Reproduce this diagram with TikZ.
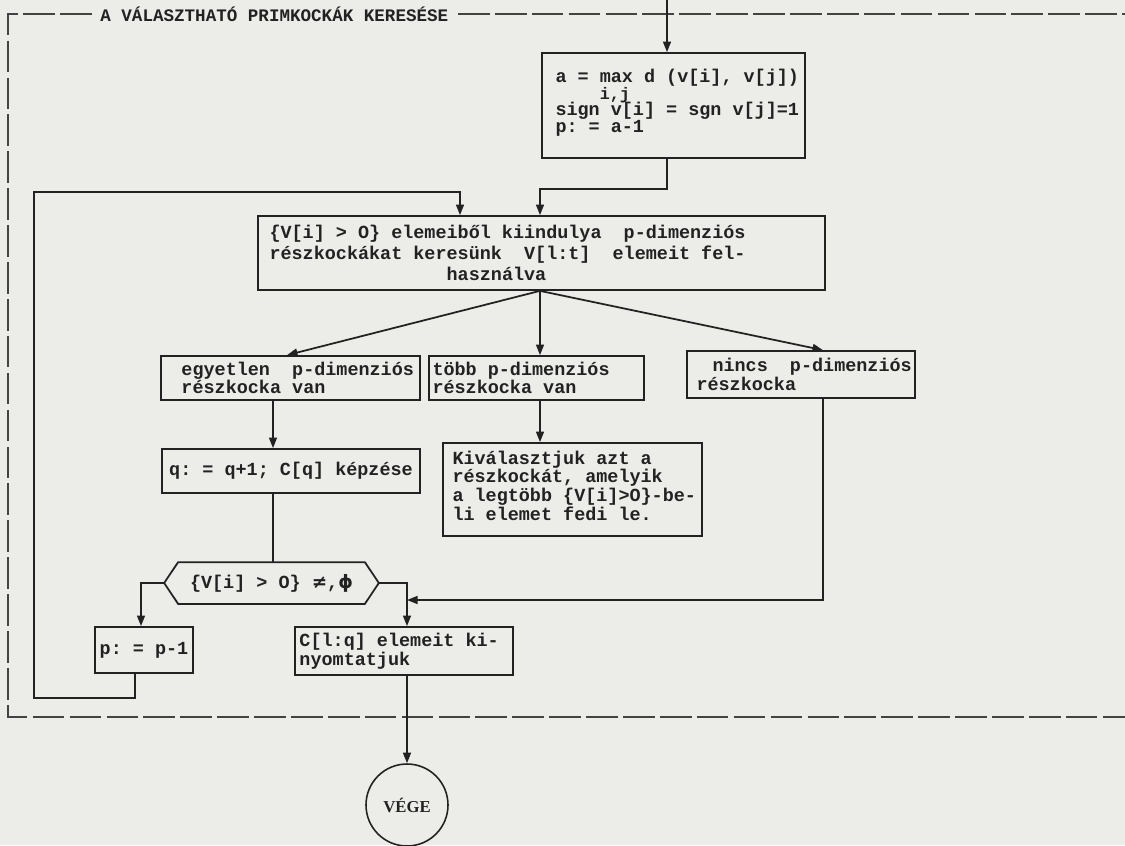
\documentclass[tikz,border=0pt]{standalone}
\usepackage{fontspec}
\setmonofont{Liberation Mono}
\newfontfamily\symfont{DejaVu Sans}
\newfontfamily\vegefont{Liberation Serif}
\usetikzlibrary{arrows.meta,calc}
\definecolor{paper}{RGB}{236,236,233}
\definecolor{ink}{RGB}{34,34,34}
\begin{document}
\begin{tikzpicture}[x=0.02cm,y=-0.02cm,
  box/.style={draw=ink, line width=1pt, text=ink, inner sep=0pt,
    font=\ttfamily\bfseries\fontsize{10.5}{10.6}\selectfont},
  txt/.style={text=ink, inner sep=0pt, anchor=west, align=left,
    font=\ttfamily\bfseries\fontsize{10.5}{10.6}\selectfont},
  arr/.style={draw=ink, line width=1pt, -{Triangle[length=6pt,width=4.5pt]}},
  ln/.style={draw=ink, line width=1pt},
  frame/.style={draw=ink!85, line width=1pt, dash pattern=on 18pt off 3pt}]
\useasboundingbox (0,0) rectangle (1125,845);
\fill[paper] (0,0) rectangle (1125,845);

% frame and title
\node[txt, font=\ttfamily\bfseries\fontsize{10}{10}\selectfont] (title) at (100,14) {A VÁLASZTHATÓ PRIMKOCKÁK KERESÉSE};
\draw[frame] (92,14) -- (8,14) -- (8,717) -- (1125,717);
\draw[frame] (458,14) -- (1125,14);

% boxes
\node[box, minimum width=5.26cm, minimum height=2.10cm] (b1) at (673.5,105.5) {};
\node[txt, yshift=0.06cm] (t1) at ([xshift=0.28cm]b1.west)
  {a = max d (v[i], v[j])\\[-1pt]
   \phantom{a = }{\fontsize{9.5}{9.5}\selectfont i,j}\\[-1.2pt]
   sign v[i] = sgn v[j]=1\\[-1pt]
   p: = a-1};

\node[box, minimum width=11.34cm, minimum height=1.48cm] (b2) at (541.5,253) {};
\node[txt, font=\ttfamily\bfseries\fontsize{10.5}{11.8}\selectfont] (t2) at ([xshift=0.24cm]b2.west)
  {\{V[i] > O\} elemeiből kiindulya~~p-dimenziós\\
   részkockákat keresünk~~V[l:t]~~elemeit fel-\\
   \phantom{részkockákat ker}használva};

\node[box, minimum width=5.18cm, minimum height=0.88cm] (b3a) at (290.5,378) {};
\node[txt] (t3a) at ([xshift=0.42cm]b3a.west) {egyetlen~~p-dimenziós\\részkocka van};

\node[box, minimum width=4.30cm, minimum height=0.88cm] (b3b) at (536.5,378) {};
\node[txt] (t3b) at ([xshift=0.08cm]b3b.west) {több p-dimenziós\\részkocka van};

\node[box, minimum width=4.56cm, minimum height=0.94cm] (b3c) at (801,374.5) {};
\node[txt] (t3c) at ([xshift=0.2cm]b3c.west) {\hspace*{0.32cm}nincs~~p-dimenziós\\részkocka};

\node[box, minimum width=5.16cm, minimum height=0.88cm] (b4a) at (291,471) {q: = q+1; C[q] képzése};

\node[box, minimum width=5.18cm, minimum height=1.86cm] (b4b) at (572.5,489.5) {};
\node[txt, yshift=0.08cm] (t4b) at ([xshift=0.2cm]b4b.west)
  {Kiválasztjuk azt a\\részkockát, amelyik\\a legtöbb \{V[i]>O\}-be-\\li elemet fedi le.};

\node[box, draw=none, minimum width=4.26cm, minimum height=0.80cm] (hx) at (271.5,583)
  {\{V[i] > O\} {\symfont\bfseries ≠},{\symfont\bfseries ϕ}};
\draw[ln] (hx.west) -- ([xshift=0.28cm]hx.north west) -- ([xshift=-0.28cm]hx.north east)
  -- (hx.east) -- ([xshift=-0.28cm]hx.south east) -- ([xshift=0.28cm]hx.south west) -- cycle;

\node[box, minimum width=1.96cm, minimum height=0.92cm] (b5a) at (144,650) {p: = p-1};

\node[box, minimum width=4.36cm, minimum height=0.96cm] (b5b) at (404,651) {};
\node[txt] (t5b) at ([xshift=0.1cm]b5b.west) {C[l:q] elemeit ki-\\nyomtatjuk};

\node[circle, draw=ink, line width=0.9pt, minimum size=1.64cm, inner sep=0pt, text=ink,
  font=\vegefont\bfseries\fontsize{9.5}{10}\selectfont] (vege) at (407,805) {VÉGE};

% columns
\coordinate (in) at (667,0);
\coordinate (j1) at (667,189);
\coordinate (j2) at (540,189);
\coordinate (l1) at (135,698);
\coordinate (l2) at (34,698);
\coordinate (l3) at (34,192);
\coordinate (l4) at (460,192);
\coordinate (xA) at (273,0);
\coordinate (xA2) at (287,0);
\coordinate (xM) at (540,0);
\coordinate (xC) at (823,0);
\coordinate (xL) at (141,0);
\coordinate (xR) at (407,0);
\coordinate (m) at (823,600);

% connectors
\draw[arr] (in) -- (in |- b1.north);
\draw[arr] (j1 |- b1.south) -- (j1) -- (j2) -- (j2 |- b2.north);
\draw[arr] (l1 |- b5a.south) -- (l1) -- (l2) -- (l3) -- (l4) -- (l4 |- b2.north);
\draw[arr] (xM |- b2.south) -- (xA2 |- b3a.north);
\draw[arr] (xM |- b2.south) -- (xM |- b3b.north);
\draw[arr] (xM |- b2.south) -- (xC |- b3c.north);
\draw[arr] (xA |- b3a.south) -- (xA |- b4a.north);
\draw[arr] (xM |- b3b.south) -- (xM |- b4b.north);
\draw[ln] (xA |- b4a.south) -- (xA |- hx.north);
\draw[arr] (hx.west) -- (xL |- hx.west) -- (xL |- b5a.north);
\draw[arr] (hx.east) -- (xR |- hx.east) -- (xR |- b5b.north);
\draw[arr] (xC |- b3c.south) -- (m) -- (xR |- m);
\draw[arr] (xR |- b5b.south) -- (vege.north);
\end{tikzpicture}
\end{document}
